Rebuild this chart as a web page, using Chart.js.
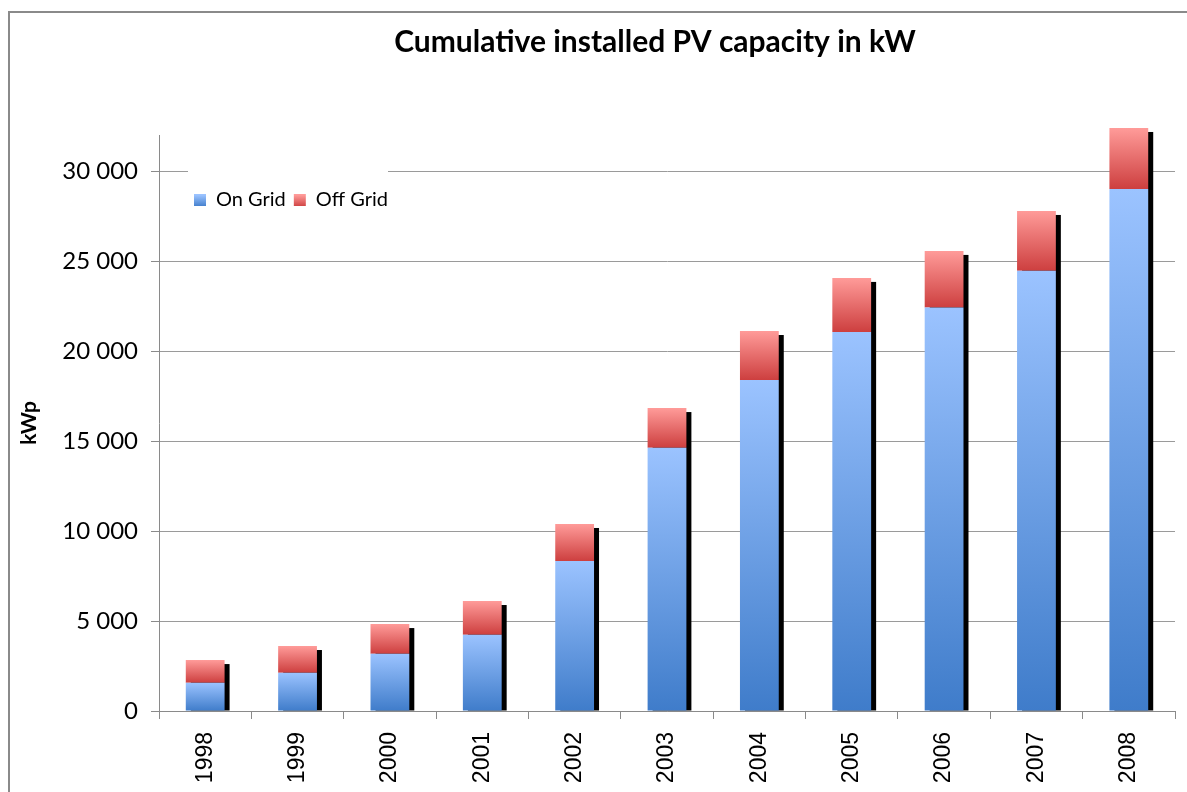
<!DOCTYPE html>
<html>
<head>
<meta charset="utf-8">
<script src="https://cdn.jsdelivr.net/npm/chart.js@4"></script>
<style>
  body { margin: 0; background: #fff; overflow: hidden; }
  #wrap { position: relative; width: 1187px; height: 792px; }
  #frame { position: absolute; left: 8px; top: 11px; width: 2000px; height: 2000px;
           border-top: 2px solid #8a8a8a; border-left: 2px solid #8a8a8a; pointer-events: none; }
</style>
</head>
<body>
<div id="wrap">
  <canvas id="chart" width="1187" height="792"></canvas>
  <div id="frame"></div>
</div>
<script>
const years = ["1998", "1999", "2000", "2001", "2002", "2003", "2004", "2005", "2006", "2007", "2008"];
const onGrid = [1570, 2130, 3180, 4240, 8330, 14630, 18390, 21060, 22410, 24460, 29000];
const offGrid = [1260, 1480, 1650, 1870, 2060, 2200, 2720, 3000, 3150, 3320, 3390];
const yTicks = [0, 5000, 10000, 15000, 20000, 25000, 30000];

const blue = ["#9bc3ff", "#3f7cca"];
const red = ["#ff9b99", "#cd3f3f"];

function fmt(v) {
  return String(v).replace(/\B(?=(\d{3})+(?!\d))/g, " ");
}

// vertical gradient for one bar segment, from its top to its base
function barFill(colors, lowVals, highVals) {
  return (c) => {
    const chart = c.chart;
    const y = chart.scales.y;
    if (!chart.chartArea || !y || c.dataIndex === undefined) return colors[1];
    const i = c.dataIndex;
    const top = y.getPixelForValue(highVals(i));
    const bot = y.getPixelForValue(lowVals(i));
    const g = chart.ctx.createLinearGradient(0, top, 0, bot);
    g.addColorStop(0, colors[0]);
    g.addColorStop(1, colors[1]);
    return g;
  };
}

// black drop shadow behind each stacked column
const barShadow = {
  id: "barShadow",
  beforeDatasetsDraw(chart) {
    const ctx = chart.ctx;
    const lower = chart.getDatasetMeta(0).data;
    const upper = chart.getDatasetMeta(1).data;
    ctx.save();
    ctx.fillStyle = "#000";
    lower.forEach((b, i) => {
      const t = upper[i];
      const left = b.x - b.width / 2 + 5;
      const top = t.y + 4;
      ctx.fillRect(left, top, b.width, b.base - top);
    });
    ctx.restore();
  }
};

// put title and legend where the original has them
const placeBoxes = {
  id: "placeBoxes",
  afterLayout(chart) {
    const t = chart.titleBlock;
    const tdy = 24 - t.top;
    t.left = 135; t.right = 1175; t.width = 1040;
    t.top += tdy; t.bottom += tdy;

    const lg = chart.legend;
    const h = lg.height;
    lg.left = 186; lg.right = 460; lg.width = 274;
    lg.top = 182; lg.bottom = 182 + h;
    if (!lg._boxed) {
      const orig = lg.draw.bind(lg);
      lg.draw = function () {
        const c = chart.ctx;
        c.save();
        c.fillStyle = "#fff";
        c.fillRect(188, 160, 200, 66);
        c.restore();
        orig();
      };
      lg._boxed = true;
    }
  }
};

const ctx = document.getElementById("chart").getContext("2d");

new Chart(ctx, {
  type: "bar",
  data: {
    labels: years,
    datasets: [
      {
        label: "On Grid",
        data: onGrid,
        backgroundColor: barFill(blue, () => 0, (i) => onGrid[i]),
        borderWidth: 0,
        barPercentage: 0.42,
        categoryPercentage: 1,
        clip: false
      },
      {
        label: "Off Grid",
        data: offGrid,
        backgroundColor: barFill(red, (i) => onGrid[i], (i) => onGrid[i] + offGrid[i]),
        borderWidth: 0,
        barPercentage: 0.42,
        categoryPercentage: 1,
        clip: false
      }
    ]
  },
  options: {
    responsive: false,
    animation: false,
    layout: { padding: { top: 61, left: 8, right: 12, bottom: 0 } },
    plugins: {
      title: {
        display: true,
        text: "Cumulative installed PV capacity in kW",
        color: "#000",
        font: { family: "Lato", size: 30, weight: "bold" },
        padding: 0
      },
      legend: {
        display: true,
        position: "top",
        align: "start",
        labels: {
          color: "#000",
          font: { family: "Lato", size: 20 },
          boxWidth: 12,
          boxHeight: 12,
          padding: 8,
          generateLabels(chart) {
            const c = chart.ctx;
            return [blue, red].map((cols, i) => {
              const g = c.createLinearGradient(0, 195, 0, 207);
              g.addColorStop(0, cols[0]);
              g.addColorStop(1, cols[1]);
              return {
                text: chart.data.datasets[i].label,
                fillStyle: g,
                strokeStyle: "rgba(0,0,0,0)",
                lineWidth: 0,
                datasetIndex: i
              };
            });
          }
        }
      },
      tooltip: { enabled: false }
    },
    scales: {
      x: {
        stacked: true,
        grid: { drawOnChartArea: false, drawTicks: true, tickLength: 8, tickColor: "#8a8a8a", offset: true },
        border: { color: "#8a8a8a", width: 1 },
        ticks: {
          color: "#000",
          font: { family: "Liberation Sans", size: 23 },
          minRotation: 90,
          maxRotation: 90,
          autoSkip: false,
          padding: 13
        },
        afterFit(scale) { scale.height = 81; }
      },
      y: {
        stacked: true,
        min: 0,
        max: 32000,
        afterBuildTicks(axis) { axis.ticks = yTicks.map((v) => ({ value: v })); },
        grid: { color: "#9a9a9a", lineWidth: 1, tickLength: 8, tickColor: "#8a8a8a" },
        border: { color: "#8a8a8a", width: 1 },
        ticks: {
          color: "#000",
          font: { family: "Lato", size: 24 },
          padding: 13,
          callback: (v) => fmt(v)
        },
        title: {
          display: true,
          text: "kWp",
          color: "#000",
          font: { family: "Lato", size: 21, weight: "bold" },
          padding: { top: 9, bottom: 0 }
        },
        afterFit(scale) { scale.width = 151; }
      }
    }
  },
  plugins: [barShadow, placeBoxes]
});
</script>
</body>
</html>
